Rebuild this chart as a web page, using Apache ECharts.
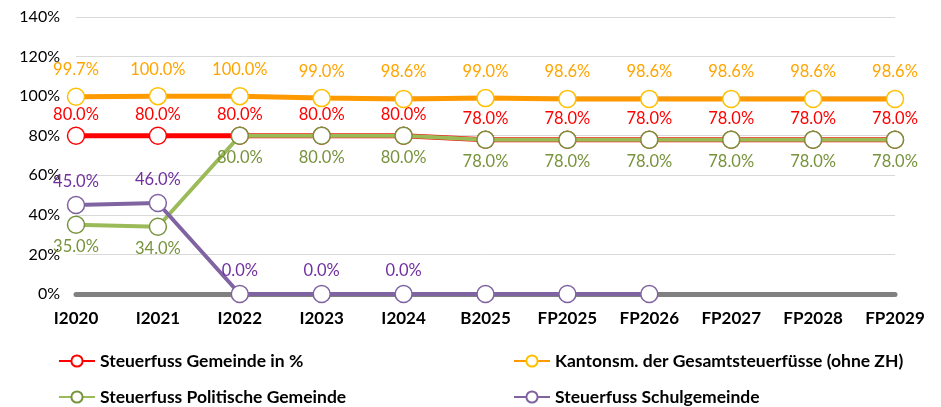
<!DOCTYPE html>
<html><head><meta charset="utf-8">
<script src="https://cdn.jsdelivr.net/npm/echarts@6/dist/echarts.min.js"></script>
<style>html,body{margin:0;padding:0;background:#fff}#c{width:941px;height:407px}</style>
</head><body><div id="c"></div>
<script>
const categories = ['I2020','I2021','I2022','I2023','I2024','B2025','FP2025','FP2026','FP2027','FP2028','FP2029'];
const gemeinde = [80,80,80,80,80,78,78,78,78,78,78];
const kanton = [99.7,100,100,99,98.6,99,98.6,98.6,98.6,98.6,98.6];
const politische = [35,34,80,80,80,78,78,78,78,78,78];
const schule = [45,46,0,0,0,0,0,0,null,null,null];
const schuleLabelCount = 5;
const yTicks = {min:0, max:140, interval:20};
const names = ['Steuerfuss Gemeinde in %','Kantonsm. der Gesamtsteuerfüsse (ohne ZH)','Steuerfuss Politische Gemeinde','Steuerfuss Schulgemeinde'];

const FONT = 'Lato, "Liberation Sans", sans-serif';
function mk(name, data, lineColor, markerColor, labelColor, pos, dist, width, z) {
  return {
    name, type:'line', data, z,
    symbol:'circle', symbolSize:17, showAllSymbol:true,
    lineStyle:{color:lineColor, width},
    itemStyle:{color:'#fff', borderColor:markerColor, borderWidth:1.5},
    label:{show:true, position:pos, distance:dist, color:labelColor, fontSize:16.5, fontFamily:FONT,
      formatter:p => p.value.toFixed(1) + '%'},
    emphasis:{disabled:true}, animation:false
  };
}
const sSchule = mk(names[3], schule.map((v,i)=> v===null? null : (i<schuleLabelCount? v : {value:v, label:{show:false}})), '#8064A2','#7F63A1','#7030A0','top',6,4,5);
const legendPos = [[58,352],[513,352],[58,388],[513,388]];
const legendText = {fontWeight:'bold', fontSize:17.5, fontFamily:FONT, color:'#000'};
const option = {
  animation:false,
  grid:{left:76, right:46, top:17, bottom:113},
  xAxis:{type:'category', data:categories, boundaryGap:false,
    axisLine:{onZero:true, lineStyle:{color:'#808080', width:5}},
    axisTick:{show:false},
    axisLabel:{color:'#000', fontWeight:'bold', fontSize:17, fontFamily:FONT, margin:16}},
  yAxis:{type:'value', min:yTicks.min, max:yTicks.max, interval:yTicks.interval,
    axisLine:{show:false}, axisTick:{show:false},
    splitLine:{lineStyle:{color:'#D9D9D9', width:1}},
    axisLabel:{color:'#000', fontSize:16, fontFamily:FONT, formatter:'{value}%', margin:16}},
  legend: names.map((n,i)=>({left:legendPos[i][0], top:legendPos[i][1], padding:0, itemGap:4,
    itemWidth:36, itemHeight:14, data:[n], textStyle:legendText, selectedMode:false})),
  series:[
    mk(names[0], gemeinde, '#FF0000','#FF0000','#FF0000','top',3,5,2),
    mk(names[1], kanton, '#FF9900','#FFC000','#FFA500','top',9,5,3),
    mk(names[2], politische, '#9BBB59','#77933C','#77933C','bottom',4,4,4),
    sSchule
  ]
};
echarts.init(document.getElementById('c'), null, {renderer:'canvas'}).setOption(option);
</script></body></html>
